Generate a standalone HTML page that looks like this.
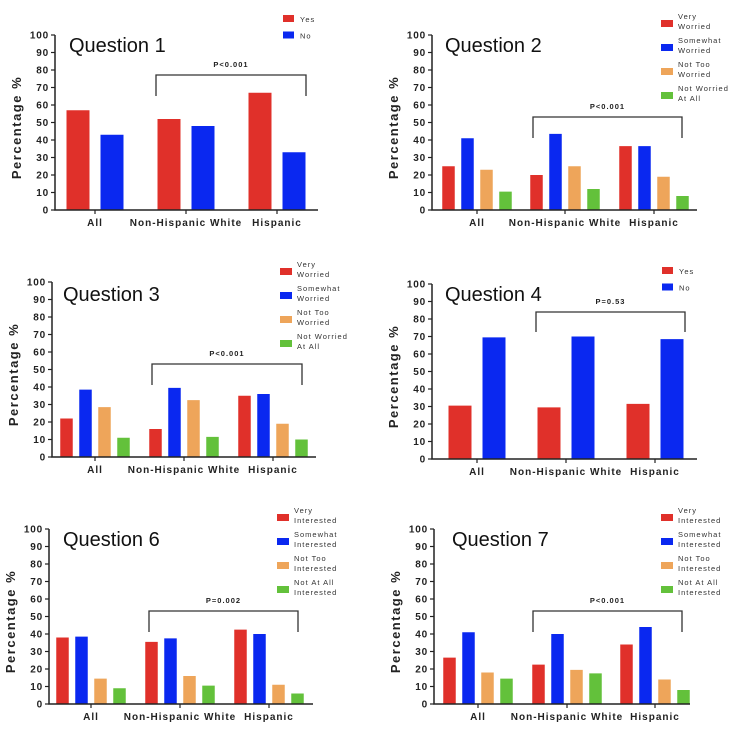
<!DOCTYPE html>
<html><head><meta charset="utf-8"><style>
body{margin:0;background:#fff}
svg{display:block;font-family:"Liberation Sans",sans-serif}
</style></head><body>
<svg id="c" width="750" height="738"></svg>
<script>
const categories=["All","Non-Hispanic White","Hispanic"];
const yTicks=[0,10,20,30,40,50,60,70,80,90,100];
const colors=["#e0302a","#0a28f0","#eea55a","#63c13b"];
const q1Values=[[57,52,67],[43,48,33]];
const q2Values=[[25,20,36.5],[41,43.5,36.5],[23,25,19],[10.5,12,8]];
const q3Values=[[22,16,35],[38.5,39.5,36],[28.5,32.5,19],[11,11.5,10]];
const q4Values=[[30.5,29.5,31.5],[69.5,70,68.5]];
const q6Values=[[38,35.5,42.5],[38.5,37.5,40],[14.5,16,11],[9,10.5,6]];
const q7Values=[[26.5,22.5,34],[41,40,44],[18,19.5,14],[14.5,17.5,8]];
const legendYesNo=[["Yes"],["No"]];
const legendWorried=[["Very","Worried"],["Somewhat","Worried"],["Not Too","Worried"],["Not Worried","At All"]];
const legendInterested=[["Very","Interested"],["Somewhat","Interested"],["Not Too","Interested"],["Not At All","Interested"]];
const panels=[
 {t:"Question 1",v:q1Values,lg:legendYesNo,p:"P<0.001",ax:55,top:35,bot:210,right:318,cx:[95,186,277],tx:69,ty:52,br:[156,306,75,96],lx:283,ly:15},
 {t:"Question 2",v:q2Values,lg:legendWorried,p:"P<0.001",ax:432,top:35,bot:210,right:697,cx:[477,565,654],tx:445,ty:52,br:[533,682,117,138],lx:661,ly:20},
 {t:"Question 3",v:q3Values,lg:legendWorried,p:"P<0.001",ax:52,top:282,bot:457,right:316,cx:[95,184,273],tx:63,ty:301,br:[152,302,364,385],lx:280,ly:268},
 {t:"Question 4",v:q4Values,lg:legendYesNo,p:"P=0.53",ax:432,top:284,bot:459,right:697,cx:[477,566,655],tx:445,ty:301,br:[536,685,312,332],lx:662,ly:267},
 {t:"Question 6",v:q6Values,lg:legendInterested,p:"P=0.002",ax:49,top:529,bot:704,right:313,cx:[91,180,269],tx:63,ty:546,br:[149,298,611,632],lx:277,ly:514},
 {t:"Question 7",v:q7Values,lg:legendInterested,p:"P<0.001",ax:434,top:529,bot:704,right:690,cx:[478,567,655],tx:452,ty:546,br:[533,682,611,632],lx:661,ly:514}
];
const NS="http://www.w3.org/2000/svg";
const svg=document.getElementById('c');
function mk(tag,at,parent,txt){const e=document.createElementNS(NS,tag);for(const k in at)e.setAttribute(k,at[k]);if(txt!==undefined)e.textContent=txt;parent.appendChild(e);return e;}
panels.forEach((P,pi)=>{
 const g=mk('g',{},svg);
 
 
 const y=v=>P.bot-(v/100)*(P.bot-P.top);
 const n=P.v.length;
 const bw=n===2?23:12.5, step=n===2?34:19;
 const title=mk('text',{x:P.tx,y:P.ty,'font-size':20,fill:'#111'},g,P.t);
 
 
 P.v.forEach((ser,si)=>{ser.forEach((val,ci)=>{
  const c=P.cx[ci]+(si-(n-1)/2)*step;
  const r=mk('rect',{x:c-bw/2,y:y(val),width:bw,height:P.bot-y(val),fill:colors[si]},g);
  
  
 });});
 const axes=mk('path',{d:`M${P.ax},${P.top}V${P.bot}H${P.right}`,stroke:'#222','stroke-width':1.5,fill:'none'},g);
 
 
 yTicks.forEach(t=>{
  mk('line',{x1:P.ax-4,x2:P.ax,y1:y(t),y2:y(t),stroke:'#222','stroke-width':1.2},g);
  const tl=mk('text',{x:P.ax-6,y:y(t)+3.5,'font-size':10,'font-weight':'bold','text-anchor':'end',fill:'#222','letter-spacing':'0.8'},g,t);
  
  
 });
 categories.forEach((cn,ci)=>{
  mk('line',{x1:P.cx[ci],x2:P.cx[ci],y1:P.bot,y2:P.bot+4,stroke:'#222','stroke-width':1.2},g);
  const cl=mk('text',{x:P.cx[ci],y:P.bot+16,'font-size':10,'font-weight':'bold','text-anchor':'middle',fill:'#222','letter-spacing':'1'},g,cn);
  
  
 });
 const yl=mk('text',{transform:`translate(${P.ax-34},${(P.top+P.bot)/2+5}) rotate(-90)`,'font-size':13,'font-weight':'bold','text-anchor':'middle',fill:'#222','letter-spacing':'1.5'},g,'Percentage %');
 
 
 const [bx1,bx2,by,bd]=P.br;
 const br=mk('path',{d:`M${bx1},${bd}V${by}H${bx2}V${bd}`,stroke:'#333','stroke-width':1.3,fill:'none'},g);
 
 
 const pl=mk('text',{x:(bx1+bx2)/2,y:by-8,'font-size':7.5,'font-weight':'bold','text-anchor':'middle',fill:'#222','letter-spacing':'1'},g,P.p);
 
 
 P.lg.forEach((lines,li)=>{
  const two=lines.length===2;
  const ry=P.ly+li*(two?24:16.5);
  const lgEl=mk('g',{},g);
  
  
  mk('rect',{x:P.lx,y:ry,width:two?12:11,height:7,fill:colors[li]},lgEl);
  lines.forEach((ln,k)=>{
   mk('text',{x:P.lx+17,y:ry+(two?-1+k*10:7),'font-size':7.5,fill:'#333','letter-spacing':'1'},lgEl,ln);
  });
 });
});
</script>
</body></html>
